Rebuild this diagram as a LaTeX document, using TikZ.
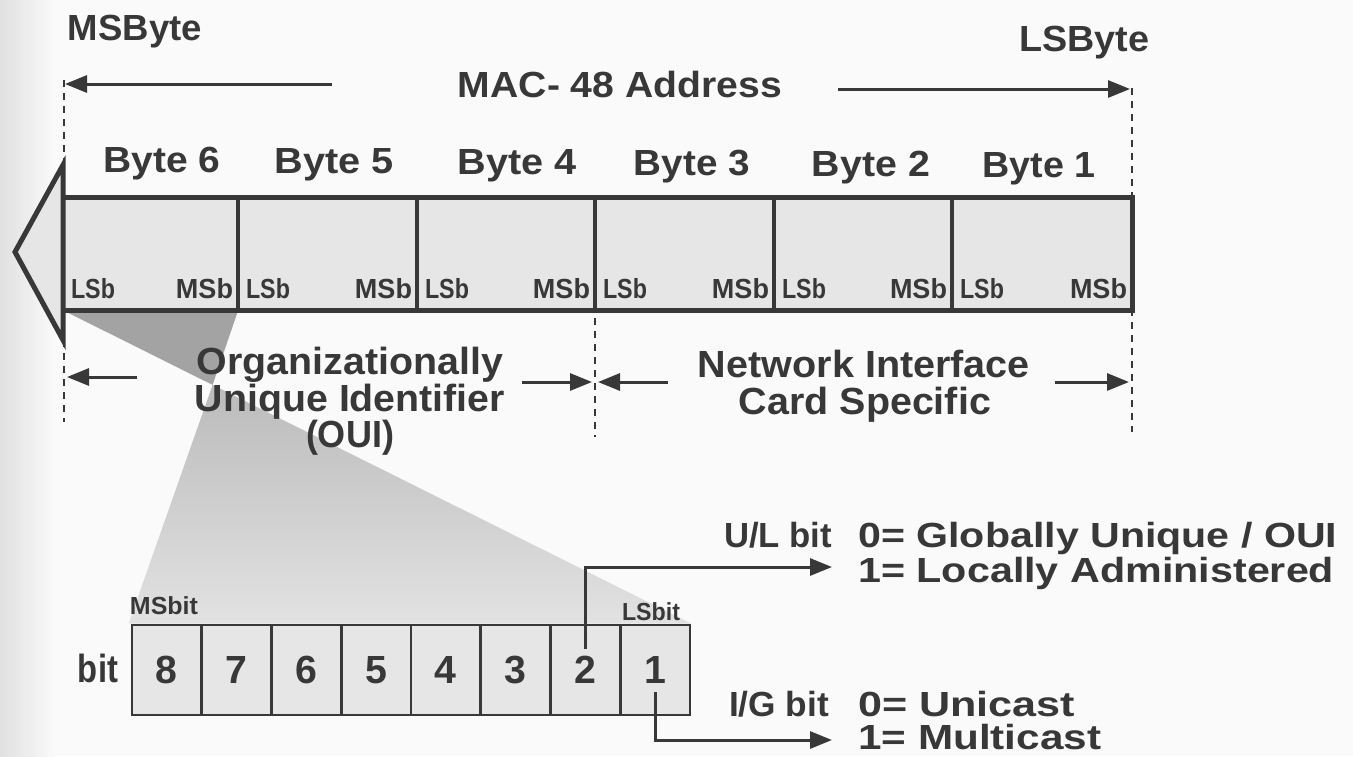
\documentclass[tikz,border=0pt]{standalone}
\usepackage{fontspec}
\setmainfont{Liberation Sans}
\usetikzlibrary{arrows.meta,calc}

\definecolor{ink}{HTML}{383838}
\definecolor{paper}{HTML}{FAFAFA}
\definecolor{cellfill}{HTML}{E6E6E6}
\definecolor{fundark}{HTML}{A3A3A3}
\definecolor{funtop}{HTML}{BBBBBB}
\definecolor{funbot}{HTML}{E2E2E2}

% text scaled to a given width and cap height
\newcommand\fitw[3]{\resizebox{#1pt}{#2pt}{\raisebox{0pt}[\fontcharht\font`H][0pt]{#3}}}
% text scaled to a given cap height, natural proportions
\newcommand\fith[2]{\resizebox{!}{#1pt}{\raisebox{0pt}[\fontcharht\font`H][0pt]{#2}}}

\tikzset{
  txt/.style={inner sep=0pt, anchor=base, text=ink, font=\bfseries},
  conn/.style={draw=ink, line width=3pt, -{Triangle[length=22pt,width=17pt]}},
  guide/.style={draw=ink, line width=1.8pt, dash pattern=on 7pt off 6pt},
  outline/.style={draw=ink, line width=5pt, line join=miter},
  divider/.style={draw=ink, line width=3.5pt},
  bytecell/.style={rectangle, inner sep=0pt, fill=cellfill, minimum height=112pt},
  bitcell/.style={rectangle, inner sep=0pt, fill=cellfill, draw=ink, line width=2.8pt,
                  minimum width=69.75pt, minimum height=90pt},
}

\begin{document}
\begin{tikzpicture}[x=1pt,y=-1pt]
\useasboundingbox (0,0) rectangle (1353,756);
\fill[paper] (0,0) rectangle (1353,756);
\shade[left color=black!12, right color=paper] (0,0) rectangle (55,756);

% ---- free ends of the arrows and guide lines
\coordinate (msTail) at (332,84);
\coordinate (msTip)  at (65,84);
\coordinate (lsTail) at (838,89);
\coordinate (lsTip)  at (1130,89);
\coordinate (gL1) at (64,80);   \coordinate (gL2) at (64,422);
\coordinate (gR1) at (1132,88); \coordinate (gR2) at (1132,432);
\coordinate (gM1) at (595,318); \coordinate (gM2) at (595,437);
\coordinate (ouiLT) at (137,377); \coordinate (ouiLH) at (67,377);
\coordinate (ouiRT) at (522,382); \coordinate (ouiRH) at (592,382);
\coordinate (nicLT) at (668,382); \coordinate (nicLH) at (598,382);
\coordinate (nicRT) at (1055,382); \coordinate (nicRH) at (1129,382);
\coordinate (ulEnd) at (832,567);
\coordinate (igEnd) at (832,740);

% ---- guide lines
\draw[guide] (gL1) -- (gL2);
\draw[guide] (gR1) -- (gR2);
\draw[guide] (gM1) -- (gM2);

% ---- byte cells of the address bar
\foreach \n/\l/\r in {6/63/238, 5/238/417, 4/417/595, 3/595/774, 2/774/952, 1/952/1132}
  \node[bytecell, minimum width={\r-\l}] (byte\n) at ({(\l+\r)/2},254) {};

% ---- bit cells
\foreach \i in {1,...,8}
  \node[bitcell] (bit\i) at ({132+(8-\i+0.5)*69.75},670) {};

% ---- zoom projection from byte 6 onto the bit cells
\coordinate (fx) at (intersection of byte6.south west--bit1.north east and byte6.south east--bit8.north west);
\fill[fundark] (byte6.south west) -- (byte6.south east) -- (fx) -- cycle;
\shade[top color=funtop, bottom color=funbot] (fx) -- ($(bit8.north west)+(-2,0)$) -- (bit1.north east) -- cycle;

% redraw the bit cells over the projection
\foreach \i in {1,...,8}
  \node[bitcell] at (bit\i) {};
\foreach \i in {1,...,8}
  \node[txt] (num\i) at ($(bit\i.south)+(0,-33)$) {\fith{27}{\i}};

% ---- address bar with its arrow head
\fill[cellfill] (byte6.south west) rectangle (byte1.north east);
\foreach \n in {5,4,3,2,1}
  \draw[divider] (byte\n.north west) -- (byte\n.south west);
\draw[outline] (byte6.north west) rectangle (byte1.south east);
\draw[outline, fill=cellfill] (63,165) -- (15,252) -- (63,340) -- cycle;

\foreach \n in {6,5,4,3,2,1}{
  \node[txt, anchor=base west] (lsb\n) at ($(byte\n.south west)+(8,-12)$) {\fitw{44}{19}{LSb}};
  \node[txt, anchor=base east] (msb\n) at ($(byte\n.south east)+(-5,-12)$) {\fitw{57}{19}{MSb}};
}

% ---- byte labels
\node[txt] (lab6) at (162,172)   {\fitw{117}{25}{Byte 6}};
\node[txt] (lab5) at (334,173)   {\fitw{119}{25}{Byte 5}};
\node[txt] (lab4) at (517,174)   {\fitw{119}{25}{Byte 4}};
\node[txt] (lab3) at (692,175)   {\fitw{116}{25}{Byte 3}};
\node[txt] (lab2) at (871,176)   {\fitw{118}{25}{Byte 2}};
\node[txt] (lab1) at (1039,177)  {\fitw{113}{25}{Byte 1}};

% ---- top titles
\node[txt] (msbyte) at (135,40) {\fitw{134}{25}{MSByte}};
\node[txt] (lsbyte) at (1084,51) {\fitw{130}{25}{LSByte}};
\node[txt] (mac) at (620,97) {\fitw{324}{25}{MAC- 48 Address}};
\draw[conn] (msTail) -- (msTip);
\draw[conn] (lsTail) -- (lsTip);

% ---- OUI / NIC spans
\node[txt] (oui1) at (350,374) {\fitw{306}{26}{Organizationally}};
\node[txt] (oui2) at (350,411) {\fitw{310}{26}{Unique Identifier}};
\node[txt] (oui3) at (350,447) {\fitw{88}{26}{(OUI)}};
\node[txt] (nic1) at (864,377) {\fitw{332}{26}{Network Interface}};
\node[txt] (nic2) at (865,414) {\fitw{252}{26}{Card Specific}};
\draw[conn] (ouiLT) -- (ouiLH);
\draw[conn] (ouiRT) -- (ouiRH);
\draw[conn] (nicLT) -- (nicLH);
\draw[conn] (nicRT) -- (nicRH);

% ---- bit row labels
\node[txt] (bitlab) at (98,682) {\fitw{40}{27}{bit}};
\node[txt] (msbit) at (164,614) {\fitw{68}{17}{MSbit}};
\node[txt] (lsbit) at (651,620) {\fitw{58}{17}{LSbit}};

% ---- U/L and I/G bits
\draw[conn] ($(bit2.north)+(0,25)$) |- (ulEnd);
\draw[conn] ($(bit1.south)+(0,-24)$) |- (igEnd);
\node[txt] (ulbit) at (778,547) {\fitw{108}{24}{U/L bit}};
\node[txt, anchor=base west] (ul0) at (858,547) {\fitw{479}{24}{0= Globally Unique / OUI}};
\node[txt, anchor=base west] (ul1) at (858,582) {\fitw{476}{24}{1= Locally Administered}};
\node[txt] (igbit) at (779,716) {\fitw{100}{24}{I/G bit}};
\node[txt, anchor=base west] (ig0) at (858,716) {\fitw{217}{24}{0= Unicast}};
\node[txt, anchor=base west] (ig1) at (858,749) {\fitw{243}{24}{1= Multicast}};
\end{tikzpicture}
\end{document}
